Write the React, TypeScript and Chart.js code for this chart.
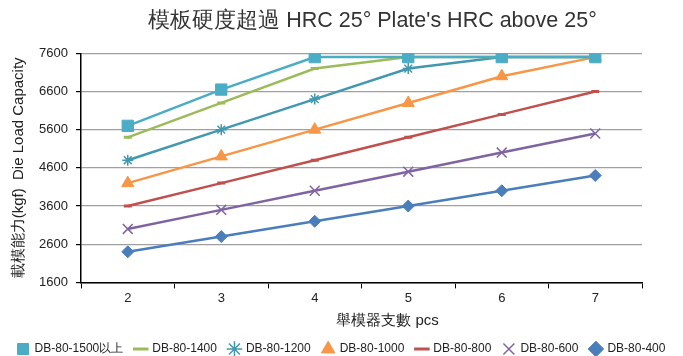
import React, { useEffect, useRef } from "react";
import { Chart, registerables } from "chart.js";

Chart.register(...registerables);

const categories = ["2", "3", "4", "5", "6", "7"];
const s1500 = [5700, 6650, 7500, 7500, 7500, 7500];
const s1400 = [5400, 6300, 7200, 7500, 7500, 7500];
const s1200 = [4800, 5600, 6400, 7200, 7500, 7500];
const s1000 = [4200, 4900, 5600, 6300, 7000, 7500];
const s800 = [3600, 4200, 4800, 5400, 6000, 6600];
const s600 = [3000, 3500, 4000, 4500, 5000, 5500];
const s400 = [2400, 2800, 3200, 3600, 4000, 4400];
const yTicks = [1600, 2600, 3600, 4600, 5600, 6600, 7600];

const TITLE = "模板硬度超過 HRC 25° Plate's HRC above 25°";
const X_TITLE = "舉模器支數 pcs";
const Y_TITLE = "載模能力(kgf)  Die Load Capacity";

const FONT = "'Liberation Sans', Arial, sans-serif";

const shiftPlugin = {
  id: "shiftTexts",
  afterLayout(chart: any) {
    const tb = chart.titleBlock;
    if (tb) {
      tb.left += 31;
      tb.right += 31;
    }
  },
  afterDraw(chart: any) {
    const xs = chart.scales.x;
    const ctx = chart.ctx;
    ctx.save();
    ctx.fillStyle = "#222";
    ctx.font = `15px ${FONT}`;
    ctx.textAlign = "center";
    ctx.textBaseline = "middle";
    const cx = (chart.chartArea.left + chart.chartArea.right) / 2 + 26;
    ctx.fillText(X_TITLE, cx, xs.bottom - 1.5 - 9);
    ctx.restore();
  },
};

export default function App() {
  const ref = useRef<HTMLCanvasElement | null>(null);
  useEffect(() => {
    document.body.style.margin = "0";
    const ctx = ref.current!;
    const mk = (label: string, data: number[], color: string, style: any, radius: number, bw: number) => ({
      label,
      data,
      borderColor: color,
      backgroundColor: color,
      pointBackgroundColor: color,
      pointBorderColor: color,
      pointStyle: style,
      pointRadius: radius,
      pointBorderWidth: bw,
      borderWidth: 2.5,
      tension: 0,
    });
    const chart = new Chart(ctx, {
      type: "line",
      data: {
        labels: categories,
        datasets: [
          mk("DB-80-1500以上", s1500, "#4BACC6", "rect", 8, 1),
          mk("DB-80-1400", s1400, "#9BBB59", "line", 4, 3),
          mk("DB-80-1200", s1200, "#4198AF", "star", 5.5, 1.5),
          mk("DB-80-1000", s1000, "#F79646", "triangle", 7, 1),
          mk("DB-80-800", s800, "#C0504D", "line", 4, 3),
          mk("DB-80-600", s600, "#8064A2", "crossRot", 7, 1.5),
          mk("DB-80-400", s400, "#4A7EBB", "rectRot", 6, 1),
        ],
      },
      plugins: [shiftPlugin],
      options: {
        animation: false,
        responsive: false,
        layout: { padding: { left: 0, right: 0, top: 0, bottom: -9 } },
        plugins: {
          title: {
            display: true,
            text: TITLE,
            color: "#333",
            font: { family: FONT, size: 21.5, weight: "normal" },
            padding: { top: 8, bottom: 19.5 },
          },
          legend: {
            position: "bottom",
            labels: {
              usePointStyle: true,
              color: "#222",
              font: { family: FONT, size: 12 },
              boxWidth: 11,
              boxHeight: 11,
              padding: 12,
            },
          },
          tooltip: { enabled: false },
        },
        scales: {
          x: {
            offset: true,
            grid: {
              display: true,
              drawOnChartArea: false,
              offset: true,
              color: "#000",
              tickLength: 6,
            },
            border: { color: "#000", width: 1.5 },
            ticks: { color: "#222", font: { family: FONT, size: 13 }, padding: 2 },
            title: {
              display: true,
              text: X_TITLE,
              color: "rgba(0,0,0,0)",
              font: { family: FONT, size: 15 },
              padding: { top: 3.5, bottom: 1.5 },
            },
          },
          y: {
            min: 1600,
            max: 7600,
            afterBuildTicks: (axis: any) => {
              axis.ticks = yTicks.map((v) => ({ value: v }));
            },
            afterFit: (axis: any) => {
              axis.width = 81;
            },
            grid: { color: "#A0A0A0", lineWidth: 1.2, tickColor: "#000", tickLength: 5 },
            border: { color: "#000", width: 1.5 },
            ticks: {
              color: "#222",
              font: { family: FONT, size: 13 },
              padding: 8,
              callback: (v: any) => String(v),
            },
            title: {
              display: true,
              text: Y_TITLE,
              color: "#222",
              font: { family: FONT, size: 15 },
              padding: { top: 10, bottom: 0 },
            },
          },
          yRight: {
            position: "right",
            display: true,
            grid: { display: false },
            border: { display: false },
            ticks: { display: false },
            afterFit: (axis: any) => {
              axis.width = 41;
            },
          },
        },
      },
    });
    return () => chart.destroy();
  }, []);
  return <canvas ref={ref} width={683} height={356} style={{ display: "block" }} />;
}
